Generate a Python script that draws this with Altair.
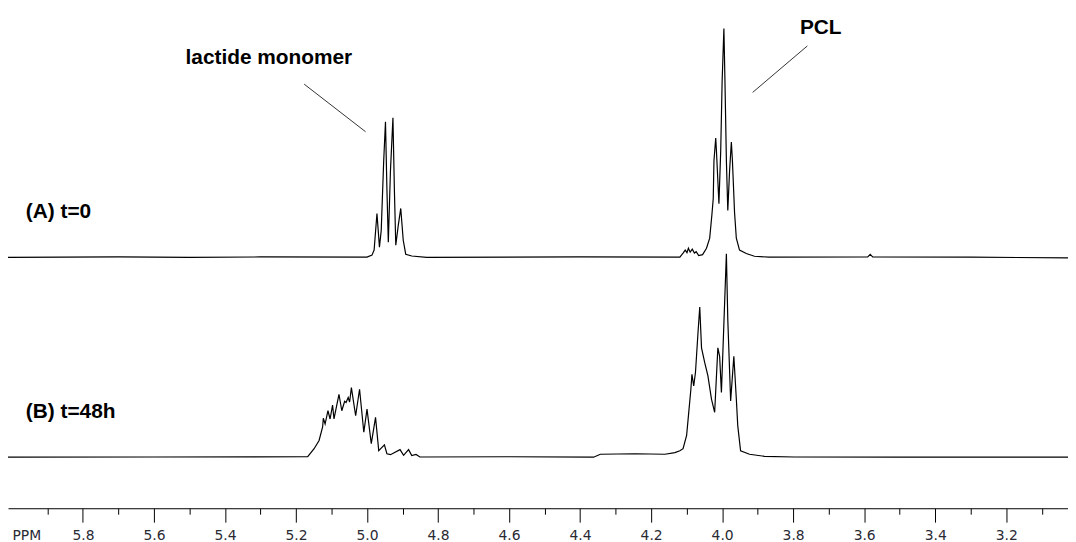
import altair as alt
import pandas as pd

# ---- spectrum (A) t=0 : chemical shift (ppm) and intensity (tallest peak = 100)
a_ppm = [6.011, 5.700, 5.500, 5.300, 5.000, 4.986, 4.980, 4.972, 4.965, 4.960, 4.953, 4.948,
         4.944, 4.940, 4.934, 4.927, 4.923, 4.919, 4.912, 4.905, 4.898, 4.891, 4.874, 4.832,
         4.400, 4.119, 4.110, 4.104, 4.099, 4.095, 4.090, 4.084, 4.078, 4.073, 4.066, 4.055,
         4.044, 4.035, 4.029, 4.025, 4.023, 4.018, 4.016, 4.009, 4.004, 4.000, 3.995, 3.992,
         3.988, 3.984, 3.979, 3.974, 3.971, 3.965, 3.960, 3.951, 3.932, 3.909, 3.867, 3.590,
         3.583, 3.576, 3.300, 3.026]
a_int = [0.0, 0.2, 0.0, 0.2, 0.1, 1.0, 3.2, 19.2, 4.5, 11.8, 42.2, 59.3,
         30.0, 6.6, 37.9, 61.0, 30.0, 5.3, 14.0, 21.4, 7.5, 1.4, 0.6, 0.0,
         0.2, 0.1, 1.9, 3.2, 2.1, 4.0, 2.3, 3.6, 1.9, 2.5, 0.8, 1.2,
         4.0, 8.4, 18.3, 25.7, 42.2, 52.2, 46.5, 23.5, 46.5, 76.9, 100.0, 76.9,
         42.2, 20.5, 37.8, 50.4, 42.2, 19.6, 8.4, 3.2, 1.7, 0.5, 0.1, 0.2,
         1.3, 0.2, 0.1, -0.2]

# ---- spectrum (B) t=48h
b_ppm = [6.011, 5.600, 5.167, 5.149, 5.135, 5.125, 5.123, 5.118, 5.110, 5.104, 5.097, 5.093,
         5.079, 5.071, 5.063, 5.059, 5.053, 5.049, 5.044, 5.032, 5.021, 5.009, 5.000, 4.988,
         4.976, 4.967, 4.951, 4.944, 4.934, 4.907, 4.897, 4.883, 4.874, 4.862, 4.851, 4.600,
         4.362, 4.343, 4.245, 4.161, 4.133, 4.119, 4.110, 4.100, 4.094, 4.088, 4.085, 4.080,
         4.075, 4.068, 4.063, 4.058, 4.049, 4.040, 4.030, 4.021, 4.012, 4.007, 4.002, 3.995,
         3.988, 3.984, 3.976, 3.967, 3.960, 3.956, 3.948, 3.923, 3.881, 3.797, 3.500, 3.026]
b_int = [0.0, 0.1, 0.2, 3.7, 7.3, 13.2, 17.0, 14.5, 20.3, 16.7, 22.8, 16.7,
         27.5, 20.3, 24.4, 23.9, 26.1, 24.1, 30.4, 18.1, 29.7, 10.9, 21.0, 5.9,
         17.4, 2.9, 5.4, 1.5, 1.1, 3.3, 0.8, 3.3, 0.7, 1.2, 0.1, 0.2,
         0.0, 1.3, 1.5, 1.3, 2.0, 2.8, 3.7, 9.5, 19.6, 29.7, 36.2, 31.1,
         37.1, 54.3, 65.6, 47.8, 41.3, 35.5, 25.4, 19.6, 47.8, 44.1, 28.3, 58.5,
         88.9, 60.0, 24.6, 44.1, 25.4, 13.8, 2.8, 1.3, 0.4, 0.1, 0.0, 0.0]

trace_names = ["A", "B"]
trace_offsets = [109.6, 22.3]   # vertical stacking of the two spectra

major_ticks = [5.8, 5.6, 5.4, 5.2, 5.0, 4.8, 4.6, 4.4, 4.2, 4.0, 3.8, 3.6, 3.4, 3.2]
minor_ticks = [5.9, 5.7, 5.5, 5.3, 5.1, 4.9, 4.7, 4.5, 4.3, 4.1, 3.9, 3.7, 3.5, 3.3, 3.1]

# annotations
label_text = ["lactide monomer", "PCL", "(A) t=0", "(B) t=48h"]
label_ppm = [5.511, 3.781, 5.961, 5.961]
label_y = [194.0, 207.2, 126.9, 39.3]

leader_ppm = [5.177, 3.760]
leader_ppm2 = [5.004, 3.914]
leader_y = [185.3, 202.0]
leader_y2 = [164.5, 181.7]

X_DOMAIN = [3.026, 6.011]
Y_DOMAIN = [0, 217.7]

rows = []
for name, off, xs, ys in [("A", trace_offsets[0], a_ppm, a_int), ("B", trace_offsets[1], b_ppm, b_int)]:
    for p, v in zip(xs, ys):
        rows.append({"trace": name, "ppm": p, "y": v + off})
spec_df = pd.DataFrame(rows)
label_df = pd.DataFrame({"ppm": label_ppm, "y": label_y, "label": label_text})
leader_df = pd.DataFrame({"ppm": leader_ppm, "ppm2": leader_ppm2, "y": leader_y, "y2": leader_y2})

all_ticks = sorted(major_ticks + minor_ticks, reverse=True)
is_major = "abs(round(datum.value*10) % 2) < 0.5"

x_axis = alt.Axis(
    values=all_ticks,
    tickSize={"condition": {"test": is_major, "value": 14}, "value": 6},
    labelExpr="abs(round(datum.value*10) % 2) < 0.5 ? format(datum.value, '.1f') : ''",
    labelFont="DejaVu Sans", labelFontSize=14, labelColor="#2a2a33",
    labelBaseline="alphabetic", labelPadding=18, labelFlush=False, labelOverlap=False,
    domainColor="#000000", domainWidth=1, tickColor="#000000", tickWidth=1,
    grid=False,
    title="PPM", titleX=4, titleY=32, titleAlign="left", titleBaseline="alphabetic",
    titleFont="DejaVu Sans", titleFontSize=14, titleFontWeight="normal", titleColor="#2a2a33",
)
x_scale = alt.Scale(domain=X_DOMAIN, reverse=True, nice=False, zero=False)
y_scale = alt.Scale(domain=Y_DOMAIN, nice=False, zero=False)

x_enc = alt.X("ppm:Q", scale=x_scale, axis=x_axis)
y_enc = alt.Y("y:Q", scale=y_scale, axis=None)

lines = alt.Chart(spec_df).mark_line(color="#000000", strokeWidth=1.2).encode(
    x=x_enc, y=y_enc, detail="trace:N"
)
texts = alt.Chart(label_df).mark_text(
    align="left", baseline="alphabetic", font="Liberation Sans", fontSize=21,
    fontWeight="bold", color="#000000"
).encode(x=x_enc, y=y_enc, text="label:N")
leaders = alt.Chart(leader_df).mark_rule(color="#333333", strokeWidth=1).encode(
    x=x_enc, x2="ppm2:Q", y=y_enc, y2="y2:Q"
)

chart = alt.layer(lines, leaders, texts).properties(
    width=1068, height=502,
    autosize=alt.AutoSizeParams(type="none"),
    padding={"left": 0, "top": 0, "right": 0, "bottom": 32},
    background="white",
).configure_view(stroke=None)

chart.save("out.html", embed_options={"renderer": "svg", "actions": False})
